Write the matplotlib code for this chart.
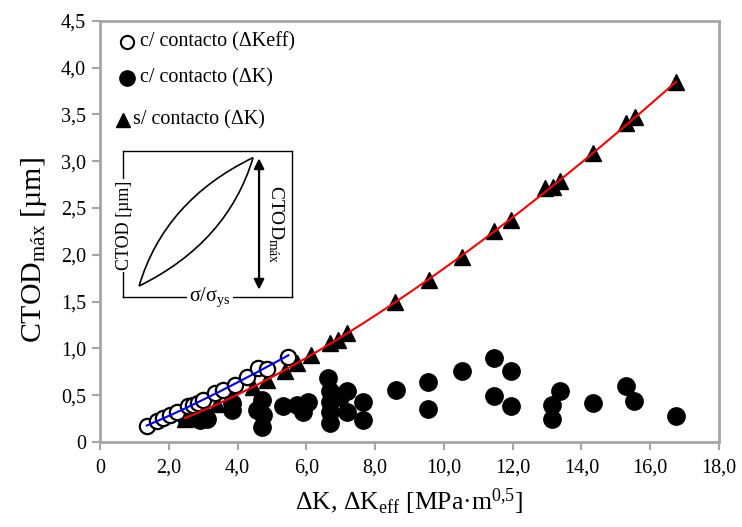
import numpy as np
import matplotlib
matplotlib.use("Agg")
import matplotlib.pyplot as plt
from matplotlib.path import Path
from matplotlib.patches import PathPatch, FancyArrowPatch
from matplotlib.lines import Line2D

plt.rcParams['font.family'] = ['Liberation Serif', 'DejaVu Serif']
plt.rcParams['mathtext.fontset'] = 'custom'
plt.rcParams['mathtext.rm'] = 'Liberation Serif'
plt.rcParams['mathtext.it'] = 'Liberation Serif:italic'

# c/ contacto (ΔKeff): open circles
dk_eff = [1.36, 1.65, 1.84, 2.04, 2.23, 2.57, 2.71, 2.86, 3.00, 3.34,
          3.59, 3.93, 4.27, 4.60, 4.85, 5.48]
ctod_eff = [0.17, 0.22, 0.26, 0.29, 0.32, 0.38, 0.40, 0.42, 0.45, 0.52,
            0.56, 0.61, 0.69, 0.79, 0.78, 0.91]

# c/ contacto (ΔK): filled circles
dk_c = [2.50, 2.70, 2.91, 3.00, 3.10, 3.83, 3.85, 4.56, 4.70, 4.75, 4.70,
        5.33, 5.72, 5.91, 6.06, 6.64, 6.69, 6.69, 6.69, 6.69, 6.98,
        7.17, 7.17, 7.64, 7.64, 8.61, 9.55, 9.55, 10.52, 11.46, 11.46,
        11.95, 11.95, 13.15, 13.15, 13.38, 14.34, 15.31, 15.54, 16.74]
ctod_c = [0.26, 0.27, 0.24, 0.29, 0.25, 0.34, 0.42, 0.34, 0.45, 0.29, 0.16,
          0.38, 0.40, 0.32, 0.43, 0.68, 0.54, 0.43, 0.32, 0.20, 0.48,
          0.54, 0.32, 0.43, 0.24, 0.56, 0.64, 0.35, 0.76, 0.90, 0.49,
          0.76, 0.38, 0.40, 0.25, 0.54, 0.42, 0.60, 0.44, 0.28]

# s/ contacto (ΔK): triangles
dk_s = [2.47, 2.90, 3.40, 3.88, 4.46, 4.85, 5.38, 5.73, 6.14, 6.69, 6.92,
        7.18, 8.58, 9.57, 10.53, 11.46, 11.95, 12.94, 13.17, 13.38,
        14.34, 15.30, 15.56, 16.75]
ctod_s = [0.25, 0.33, 0.41, 0.48, 0.59, 0.66, 0.76, 0.84, 0.93, 1.06, 1.09,
          1.16, 1.50, 1.73, 1.98, 2.25, 2.37, 2.71, 2.72, 2.79,
          3.09, 3.41, 3.47, 3.85]

x_ticks = [0, 2, 4, 6, 8, 10, 12, 14, 16, 18]
x_labels = ['0', '2,0', '4,0', '6,0', '8,0', '10,0', '12,0', '14,0', '16,0', '18,0']
y_ticks = [0, 0.5, 1.0, 1.5, 2.0, 2.5, 3.0, 3.5, 4.0, 4.5]
y_labels = ['0', '0,5', '1,0', '1,5', '2,0', '2,5', '3,0', '3,5', '4,0', '4,5']

legend_labels = ['c/ contacto (ΔKeff)', 'c/ contacto (ΔK)', 's/ contacto (ΔK)']


def power_fit(x, y):
    b, log_a = np.polyfit(np.log(x), np.log(y), 1)
    xs = np.linspace(min(x), max(x), 200)
    return xs, np.exp(log_a) * xs ** b


fig = plt.figure(figsize=(7.42, 5.27), dpi=100)
ax = fig.add_axes([100 / 742, 85 / 527, 619 / 742, 421.3 / 527])

ax.plot(dk_c, ctod_c, 'o', color='black', markersize=12.5, zorder=3)
ax.plot(dk_s, ctod_s, '^', color='black', markersize=11, zorder=4)
ax.plot(dk_eff, ctod_eff, 'o', markerfacecolor='white', markeredgecolor='black',
        markeredgewidth=1.6, markersize=11, zorder=5)

xs, ys = power_fit(dk_s, ctod_s)
ax.plot(xs, ys, color='#ff0000', lw=1.5, zorder=6)
xe, ye = power_fit(dk_eff, ctod_eff)
ax.plot(xe, ye, color='#0000ff', lw=1.5, zorder=7)

ax.set_xlim(0, 18)
ax.set_ylim(0, 4.5)
ax.set_xticks(x_ticks)
ax.set_xticklabels(x_labels)
ax.set_yticks(y_ticks)
ax.set_yticklabels(y_labels)
ax.tick_params(direction='out', length=6, width=1.5, color='#a6a6a6',
               labelsize=14.5, labelcolor='black')
ax.tick_params(axis='y', pad=4)
ax.tick_params(axis='x', pad=6)
for sp in ax.spines.values():
    sp.set_color('#a6a6a6')
    sp.set_linewidth(2)

ax.set_xlabel(r'ΔK, ΔK$_{\mathrm{eff}}$ [MPa·m$^{0{,}5}$]', fontsize=18.5)
ax.xaxis.set_label_coords(0.5, -0.105)
ax.set_ylabel(r'CTOD$_{\mathrm{máx}}$ [µm]', fontsize=21.5)
ax.yaxis.set_label_coords(-0.082, 0.455)

# legend entries placed in axes pixels from the top-left corner
def px_to_axes(px, py):
    return (px - 100) / 619, (442 - py) / 421.3

legend_rows = [
    dict(marker='o', mfc='white', mec='black', mew=1.5, ms=9.5, mx=127, tx=140, y=42),
    dict(marker='o', mfc='black', mec='black', mew=1.0, ms=11, mx=127, tx=140, y=78),
    dict(marker='^', mfc='black', mec='black', mew=1.0, ms=10, mx=123, tx=133, y=120),
]
for row, text in zip(legend_rows, legend_labels):
    mx, my = px_to_axes(row['mx'], row['y'])
    tx, ty = px_to_axes(row['tx'], row['y'])
    ax.add_line(Line2D([mx], [my], marker=row['marker'], markerfacecolor=row['mfc'],
                       markeredgecolor=row['mec'], markeredgewidth=row['mew'],
                       markersize=row['ms'], linestyle='none',
                       transform=ax.transAxes, zorder=8))
    ax.text(tx, ty, text, transform=ax.transAxes, ha='left', va='center',
            fontsize=14.5, zorder=8)

# schematic of the CTOD loop
ins = fig.add_axes([123 / 742, 230 / 527, 169 / 742, 146 / 527])
ins.set_xlim(0, 1)
ins.set_ylim(0, 1)
ins.set_xticks([])
ins.set_yticks([])
for sp in ins.spines.values():
    sp.set_color('black')
    sp.set_linewidth(1.0)
ins.patch.set_alpha(0)

p0 = (0.095, 0.075)
p1 = (0.77, 0.955)
upper = Path([p0, (0.246, 0.661), p1], [Path.MOVETO, Path.CURVE3, Path.CURVE3])
lower = Path([p0, (0.619, 0.374), p1], [Path.MOVETO, Path.CURVE3, Path.CURVE3])
for pth in (upper, lower):
    ins.add_patch(PathPatch(pth, facecolor='none', edgecolor='black', lw=1.2))

ins.add_patch(FancyArrowPatch((0.805, 0.05), (0.805, 0.95), arrowstyle='<|-|>',
                              mutation_scale=15, color='black', lw=1.6,
                              shrinkA=0, shrinkB=0))

ins.text(0.01, 0.49, 'CTOD [µm]', rotation=90, ha='center', va='center',
         fontsize=13, bbox=dict(facecolor='white', edgecolor='none', pad=1.5))
ins.text(0.515, 0.0, r'σ/σ$_{\mathrm{ys}}$', ha='center', va='center',
         fontsize=14.5, bbox=dict(facecolor='white', edgecolor='none', pad=1.5))
ins.text(0.905, 0.5, r'CTOD$_{\mathrm{máx}}$', rotation=270, ha='center',
         va='center', fontsize=14)

fig.savefig('out.png', dpi=100)
